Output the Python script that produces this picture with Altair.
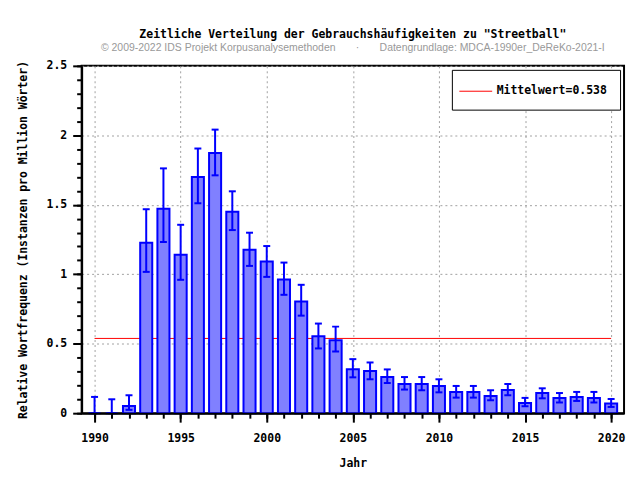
import altair as alt
import pandas as pd

years = list(range(1990, 2021))
freq = [0, 0, 0.052, 1.227, 1.471, 1.141, 1.70, 1.872, 1.449, 1.177, 1.091, 0.962,
        0.804, 0.554, 0.525, 0.317, 0.303, 0.26, 0.21, 0.21, 0.196, 0.153, 0.153,
        0.124, 0.167, 0.074, 0.145, 0.11, 0.117, 0.11, 0.069]
err_low = [0, 0, 0.024, 1.017, 1.232, 0.96, 1.511, 1.712, 1.318, 1.06, 0.981, 0.852,
           0.702, 0.466, 0.444, 0.258, 0.244, 0.217, 0.17, 0.165, 0.15, 0.112, 0.112,
           0.093, 0.129, 0.05, 0.107, 0.077, 0.088, 0.077, 0.045]
err_high = [0.117, 0.10, 0.129, 1.468, 1.762, 1.356, 1.905, 2.041, 1.597, 1.299, 1.203,
            1.084, 0.924, 0.645, 0.623, 0.389, 0.365, 0.315, 0.26, 0.26, 0.244, 0.196,
            0.196, 0.165, 0.21, 0.11, 0.179, 0.145, 0.153, 0.153, 0.102]
mean_value = 0.538
mean_label = "Mittelwert=0.538"

x_major = [1990, 1995, 2000, 2005, 2010, 2015, 2020]
y_major = [0, 0.5, 1, 1.5, 2, 2.5]
y_minor = [round(i * 0.1, 1) for i in range(26)]

title_text = 'Zeitliche Verteilung der Gebrauchshäufigkeiten zu "Streetball"'
sp = "\u00a0" * 7
subtitle_text = "© 2009-2022 IDS Projekt Korpusanalysemethoden" + sp + "·" + sp + "Datengrundlage: MDCA-1990er_DeReKo-2021-I"

df = pd.DataFrame({"Jahr": years, "freq": freq, "lo": err_low, "hi": err_high})
mean_df = pd.DataFrame({"x0": [years[0]], "x1": [years[-1]], "y": [mean_value], "label": [mean_label]})

FONT = "DejaVu Sans Mono"
BLUE = "#0000ff"
xscale = alt.Scale(domain=[1989.25, 2020.75], nice=False, zero=False)
yscale = alt.Scale(domain=[0, 2.5], nice=False, zero=True)

grid_common = dict(grid=True, gridColor="#a0a0a0", gridDash=[2, 3], gridWidth=1,
                   domain=False, ticks=False, labels=False, title=None, zindex=0)
grid_x = alt.Axis(orient="bottom", values=x_major, **grid_common)
grid_y = alt.Axis(orient="left", values=y_major[1:], **grid_common)

major_x = alt.Axis(orient="bottom", values=x_major, format="d", grid=False, domain=True,
                   domainColor="black", domainWidth=2, ticks=True, tickSize=9,
                   tickWidth=2, tickColor="black", labelPadding=10, labelFlush=False,
                   title="Jahr", titlePadding=14, zindex=1)
major_y = alt.Axis(orient="left", values=y_major, grid=False, domain=True,
                   domainColor="black", domainWidth=2, ticks=True, tickSize=9,
                   tickWidth=2, tickColor="black", labelPadding=6,
                   labelExpr="'' + datum.value",
                   title="Relative Wortfrequenz (Instanzen pro Million Wörter)",
                   titlePadding=18, zindex=1)
minor_x = alt.Axis(orient="bottom", values=years, grid=False, domain=False, ticks=True,
                   tickSize=5, tickWidth=2, tickColor="black", labels=False, title=None,
                   zindex=1)
minor_y = alt.Axis(orient="left", values=y_minor, grid=False, domain=False, ticks=True,
                   tickSize=5, tickWidth=2, tickColor="black", labels=False, title=None,
                   zindex=1)

legend = alt.Legend(title=None, orient="top-right", offset=4, padding=13,
                    fillColor="white", strokeColor="black", cornerRadius=0,
                    symbolType="M-1.75,0H2.375", symbolSize=256, symbolStrokeWidth=1,
                    labelFont=FONT, labelFontWeight="bold", labelFontSize=11.5,
                    labelColor="black", labelOffset=15)

rule = alt.Chart(mean_df).mark_rule(strokeWidth=1).encode(
    x=alt.X("x0:Q", scale=xscale, axis=grid_x),
    x2="x1:Q",
    y=alt.Y("y:Q", scale=yscale, axis=grid_y),
    color=alt.Color("label:N", scale=alt.Scale(domain=[mean_label], range=["#ff0000"]),
                    legend=legend),
)

bars = alt.Chart(df).transform_calculate(
    x0="datum.Jahr - 0.35", x1="datum.Jahr + 0.35"
).mark_bar(fill="#8080ff", stroke=BLUE, strokeWidth=2).encode(
    x=alt.X("x0:Q", scale=xscale, axis=major_x),
    x2="x1:Q",
    y=alt.Y("freq:Q", scale=yscale, axis=major_y),
    y2=alt.datum(0),
)

errs = alt.Chart(df).mark_rule(color=BLUE, strokeWidth=2).encode(
    x=alt.X("Jahr:Q", scale=xscale, axis=minor_x),
    y=alt.Y("lo:Q", scale=yscale, axis=minor_y),
    y2="hi:Q",
)

cap_hi = alt.Chart(df).mark_tick(orient="horizontal", size=7, thickness=2, color=BLUE, opacity=1).encode(
    x=alt.X("Jahr:Q", scale=xscale, axis=None),
    y=alt.Y("hi:Q", scale=yscale, axis=None),
)
cap_lo = alt.Chart(df).mark_tick(orient="horizontal", size=7, thickness=2, color=BLUE, opacity=1).encode(
    x=alt.X("Jahr:Q", scale=xscale, axis=None),
    y=alt.Y("lo:Q", scale=yscale, axis=None),
)

chart = alt.layer(rule, bars, errs, cap_hi, cap_lo).resolve_axis(
    x="independent", y="independent"
).properties(
    width=545, height=349,
    autosize=alt.AutoSizeParams(type="none"),
    padding={"left": 74, "top": 57, "right": 8, "bottom": 64},
    title=alt.Title(text=title_text, subtitle=subtitle_text, font=FONT, fontSize=11.5,
                    fontWeight="bold", color="black", subtitleFont="Liberation Sans",
                    subtitleFontSize=10.5, subtitleColor="#999999", anchor="middle",
                    frame="group", offset=6, subtitlePadding=3),
).configure_view(
    stroke="black", strokeWidth=2
).configure_axis(
    labelFont=FONT, labelFontSize=11.5, labelFontWeight="bold", labelColor="black",
    titleFont=FONT, titleFontSize=11.5, titleFontWeight="bold", titleColor="black",
)

chart.save("out.html", embed_options={"renderer": "svg", "actions": False})
